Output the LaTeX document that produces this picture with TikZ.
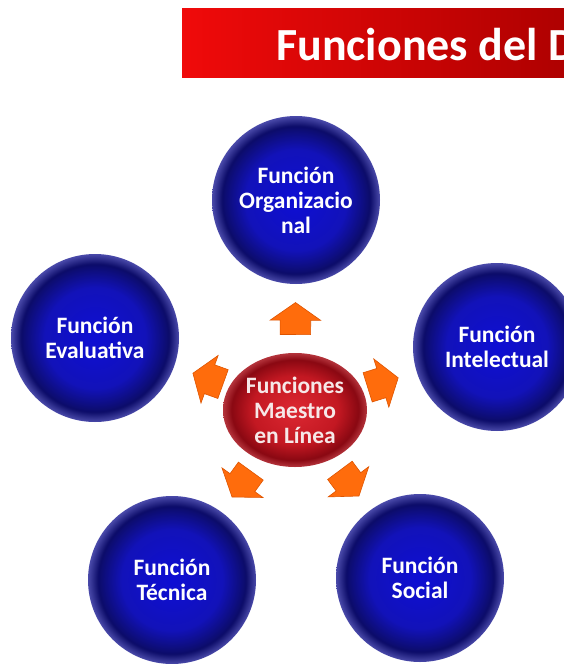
\documentclass[tikz,border=0pt]{standalone}
\usepackage{fontspec}
\setmainfont{Carlito}
\usetikzlibrary{calc,shapes.geometric,shapes.arrows}

\definecolor{rojoclaro}{RGB}{240,10,10}
\definecolor{rojooscuro}{RGB}{172,0,0}
\definecolor{azulcentro}{RGB}{14,14,212}
\definecolor{azulmedio}{RGB}{18,18,185}
\definecolor{azuloscuro}{RGB}{12,12,105}
\definecolor{azulborde}{RGB}{74,74,170}
\definecolor{granatecentro}{RGB}{220,40,50}
\definecolor{granatemedio}{RGB}{195,24,34}
\definecolor{granateoscuro}{RGB}{138,8,18}
\definecolor{granateborde}{RGB}{180,52,60}
\definecolor{naranja}{RGB}{255,108,12}
\definecolor{naranjaborde}{RGB}{222,84,0}
\definecolor{textorosa}{RGB}{246,232,232}

\pgfdeclareradialshading{esferaazul}{\pgfpoint{0bp}{0bp}}{color(0bp)=(azulcentro); color(15bp)=(azulmedio); color(22bp)=(azuloscuro); color(25bp)=(azulborde); color(50bp)=(azulborde)}
\pgfdeclareradialshading{esferaroja}{\pgfpoint{0bp}{0bp}}{color(0bp)=(granatecentro); color(15bp)=(granatemedio); color(22bp)=(granateoscuro); color(25bp)=(granateborde); color(50bp)=(granateborde)}

\tikzset{
	funcion/.style={circle, minimum size=168pt, inner sep=0pt, shading=esferaazul, text=white, align=center, font=\bfseries\fontsize{23.5}{25}\selectfont},
	maestro/.style={ellipse, minimum width=144pt, minimum height=114pt, inner sep=0pt, shading=esferaroja, text=textorosa, align=center, font=\bfseries\fontsize{23.5}{25}\selectfont},
	flecha/.style={single arrow, minimum width=50pt, minimum height=32pt, inner xsep=0pt, inner ysep=15pt, single arrow head extend=10pt, single arrow tip angle=110, fill=naranja, draw=naranjaborde, line width=0.6pt, sloped, allow upside down, pos=0.41}
}

\begin{document}
\begin{tikzpicture}[x=1pt, y=-1pt]
			%%%%% START %%%%%
			
			\path[use as bounding box, clip] (0, 0) rectangle (564, 664);
			
			% banda del titulo
			\shade[left color=rojoclaro, right color=rojooscuro] (182, 8) rectangle (580, 77);
			\node[anchor=base west, inner sep=0pt, text=white, font=\bfseries\fontsize{46}{48}\selectfont] (titulo) at (276, 60) {Funciones del D};
			
			% centro y funciones
			\node[maestro] (centro) at (295, 410) {Funciones\\Maestro\\en Línea};
			
			\node[funcion] (org) at (296, 200) {Función\\Organizacio\\nal};
			\node[funcion] (eval) at (95, 338) {Función\\Evaluativa};
			\node[funcion] (intel) at (497, 347) {Función\\Intelectual};
			\node[funcion] (tec) at (172, 580) {Función\\Técnica};
			\node[funcion] (soc) at (420, 578) {Función\\Social};
			
			% flechas
			\path (centro.center) -- node[flecha] (fOrg) {} (org.center);
			\path (centro.center) -- node[flecha] (fEval) {} (eval.center);
			\path (centro.center) -- node[flecha] (fIntel) {} (intel.center);
			\path (centro.center) -- node[flecha] (fTec) {} (tec.center);
			\path (centro.center) -- node[flecha] (fSoc) {} (soc.center);
			
			%%%%% END %%%%%
\end{tikzpicture}
\end{document}
